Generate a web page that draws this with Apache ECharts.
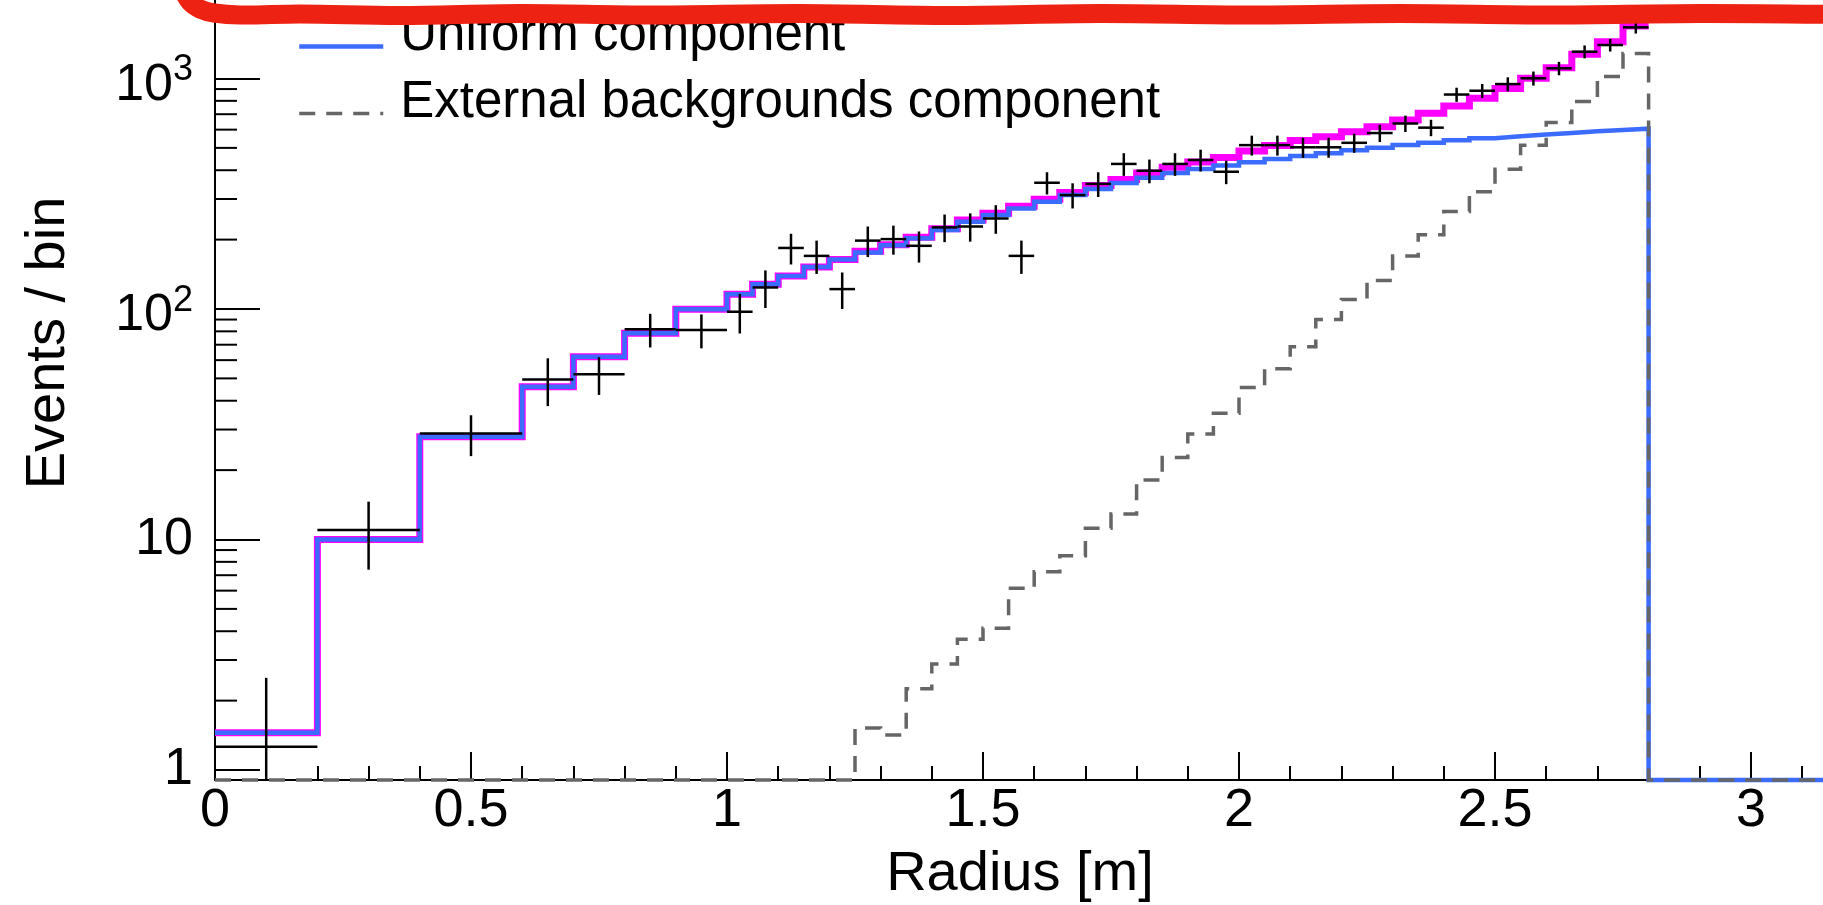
<!DOCTYPE html>
<html>
<head>
<meta charset="utf-8">
<script src="https://cdn.jsdelivr.net/npm/echarts@6/dist/echarts.min.js"></script>
<style>
  html, body { margin: 0; padding: 0; background: #ffffff; }
  #chart { width: 1823px; height: 905px; }
</style>
</head>
<body>
<div id="chart"></div>
<script>
// Histogram bin edges in radius [m]; the last bin is the empty tail past 2.8 m
const binEdges = [0, 0.2, 0.4, 0.6, 0.7, 0.8, 0.9, 1.0,
  1.05, 1.1, 1.15, 1.2, 1.25, 1.3, 1.35, 1.4, 1.45, 1.5,
  1.55, 1.6, 1.65, 1.7, 1.75, 1.8, 1.85, 1.9, 1.95, 2.0,
  2.05, 2.1, 2.15, 2.2, 2.25, 2.3, 2.35, 2.4, 2.45, 2.5,
  2.55, 2.6, 2.65, 2.7, 2.75, 2.8, 3.2];

// Total fit (events / bin), defined up to 2.8 m
const totalFit = [1.45, 10.0, 27.9, 46.0, 62.1, 78.5, 99.7,
  116, 128, 139, 152, 164, 178, 190, 205, 223, 243,
  260, 279, 299, 320, 343, 365, 389, 412, 434, 454,
  485, 512, 538, 559, 588, 618, 661, 706, 760, 820,
  906, 1002, 1114, 1273, 1445, 1689];

// Uniform component
const uniformComp = [1.45, 10.0, 27.9, 46.0, 62.1, 78.5, 99.7,
  116, 128, 139, 152, 164, 176, 189, 203, 220, 239,
  256, 273, 292, 312, 332, 352, 371, 389, 405, 419,
  433, 447, 461, 474, 488, 501, 515, 527, 540, 551,
  562, 572, 580, 590, 598, 606, 0];

// External backgrounds component
const externalComp = [0, 0, 0, 0, 0, 0, 0,
  0, 0, 0, 0, 0, 1.52, 1.42, 2.25, 2.88, 3.69,
  4.12, 6.14, 7.25, 8.5, 11.2, 12.9, 18.1, 22.7, 28.7, 35.3,
  45.7, 55, 68.6, 90, 110, 133, 170, 210, 265, 323,
  404, 514, 645, 794, 1019, 1285, 0];

// Observed events per bin and their uncertainties
const dataCounts = [1.26, 11.0, 28.8, 49.5, 52.1, 81.7, 81.1,
  97.3, 124, 184, 170, 122, 198, 201, 188, 226, 228,
  247, 170, 353, 312, 349, 426, 398, 426, 443, 394,
  514, 514, 503, 503, 526, 580, 638, 612, 852, 885,
  946, 1002, 1107, 1307, 1397, 1667];
const dataErrors = [1.25, 3.6, 5.8, 11.6, 9.7, 13.6, 13.6,
  19, 23, 28, 28, 22, 30, 29, 29, 31, 32,
  35, 28, 39, 39, 43, 48, 47, 48, 48, 46,
  51, 51, 50, 50, 50, 50, 52, 50, 60, 62,
  66, 70, 74, 84, 88, 100];

// Axis ranges and tick values
const X_MIN = 0, X_MAX = 3.5, X_STEP = 0.5;
const Y_MIN = 0.905, Y_MAX = 10000;
const yDecades = [1, 10, 100, 1000];
const yMinorTicks = [];
yDecades.forEach(function (d) {
  for (let k = 2; k <= 9; k++) yMinorTicks.push(k * d);
});

const FONT = "'Liberation Sans', Arial, Helvetica, sans-serif";

// Histogram outline: each bin contributes its two top corners;
// empty bins sit on the bottom of the log axis
function stepPoints(vals) {
  const pts = [];
  for (let i = 0; i < vals.length; i++) {
    const v = Math.max(vals[i], Y_MIN);
    pts.push([binEdges[i], v], [binEdges[i + 1], v]);
  }
  return pts;
}

const crossData = dataCounts.map(function (v, i) {
  return [binEdges[i], binEdges[i + 1], v, dataErrors[i]];
});

function renderCross(params, api) {
  const lo = api.value(0), hi = api.value(1), v = api.value(2), e = api.value(3);
  const pL = api.coord([lo, v]);
  const pR = api.coord([hi, v]);
  const xc = api.coord([(lo + hi) / 2, v])[0];
  const yTop = api.coord([lo, v + e])[1];
  const yBot = api.coord([lo, Math.max(v - e, Y_MIN)])[1];
  const st = { stroke: '#000000', lineWidth: 2.5 };
  return {
    type: 'group',
    children: [
      { type: 'line', shape: { x1: pL[0], y1: pL[1], x2: pR[0], y2: pR[1] }, style: st },
      { type: 'line', shape: { x1: xc, y1: yTop, x2: xc, y2: yBot }, style: st }
    ]
  };
}

function renderMinorTick(params, api) {
  const p = api.coord([api.value(0), api.value(1)]);
  return {
    type: 'line',
    shape: { x1: p[0], y1: p[1], x2: p[0] + 22, y2: p[1] },
    style: { stroke: '#000000', lineWidth: 2 }
  };
}

function yLabel(v) {
  const lg = Math.log10(v);
  const e = Math.round(lg);
  if (Math.abs(lg - e) > 1e-6) return '';
  if (e === 0) return '1';
  if (e === 1) return '10';
  return '{bp|10}{sp|' + e + '}';
}

const chart = echarts.init(document.getElementById('chart'), null, { renderer: 'canvas' });

const option = {
  backgroundColor: '#ffffff',
  animation: false,
  textStyle: { fontFamily: FONT, color: '#000000' },
  grid: { left: 215, top: -152, width: 1792, height: 932, outerBoundsMode: 'none', containLabel: false },
  legend: {
    orient: 'vertical',
    left: 297,
    top: 10,
    padding: 0,
    itemGap: -6,
    itemWidth: 84,
    itemHeight: 14,
    selectedMode: false,
    itemStyle: { color: 'rgba(0,0,0,0)', borderWidth: 0 },
    formatter: '{t|{name}}',
    textStyle: {
      fontFamily: FONT, fontSize: 51, color: '#000000', lineHeight: 44,
      rich: { t: { fontFamily: FONT, fontSize: 51, color: '#000000', lineHeight: 44, padding: [0, 0, 22, 12] } }
    },
    data: [
      { name: 'Uniform component', lineStyle: { width: 4.5 } },
      { name: 'External backgrounds component', lineStyle: { width: 3.5, type: [16, 11] } }
    ]
  },
  xAxis: {
    type: 'value',
    min: X_MIN,
    max: X_MAX,
    interval: X_STEP,
    name: 'Radius [m]',
    nameLocation: 'middle',
    nameGap: 67,
    nameTextStyle: { fontFamily: FONT, fontSize: 56, lineHeight: 56, color: '#000000', padding: [0, 182, 0, 0] },
    axisLine: { show: true, onZero: false, lineStyle: { color: '#000000', width: 2 } },
    axisTick: { show: true, inside: true, length: 28, lineStyle: { color: '#000000', width: 2 } },
    minorTick: { show: true, splitNumber: 5, length: 14, lineStyle: { color: '#000000', width: 2 } },
    axisLabel: { margin: 4, fontFamily: FONT, fontSize: 54, lineHeight: 54, color: '#000000' },
    splitLine: { show: false },
    minorSplitLine: { show: false }
  },
  yAxis: {
    type: 'log',
    logBase: 10,
    min: Y_MIN,
    max: Y_MAX,
    name: 'Events / bin',
    nameLocation: 'middle',
    nameRotate: 90,
    nameGap: 138,
    nameTextStyle: { fontFamily: FONT, fontSize: 56, lineHeight: 56, color: '#000000', padding: [0, 58, 0, 0] },
    axisLine: { show: true, onZero: false, lineStyle: { color: '#000000', width: 2 } },
    axisTick: { show: true, inside: true, length: 45, lineStyle: { color: '#000000', width: 2 } },
    axisLabel: {
      margin: 22,
      fontFamily: FONT,
      fontSize: 52,
      color: '#000000',
      formatter: yLabel,
      rich: {
        bp: { fontFamily: FONT, fontSize: 52, lineHeight: 52, color: '#000000', padding: [14, 0, 0, 0] },
        sp: { fontFamily: FONT, fontSize: 36, lineHeight: 42, color: '#000000', verticalAlign: 'top' }
      }
    },
    splitLine: { show: false },
    minorSplitLine: { show: false }
  },
  series: [
    {
      type: 'line', name: 'Total fit',
      data: stepPoints(totalFit),
      symbol: 'none', showSymbol: false, clip: false, silent: true,
      lineStyle: { color: '#ff00ff', width: 7, join: 'miter' },
      itemStyle: { color: '#ff00ff' },
      z: 2
    },
    {
      type: 'line', name: 'Uniform component',
      data: stepPoints(uniformComp),
      symbol: 'none', showSymbol: false, clip: false, silent: true,
      lineStyle: { color: '#3b6cff', width: 4.5, join: 'miter' },
      itemStyle: { color: '#3b6cff' },
      z: 3
    },
    {
      type: 'line', name: 'External backgrounds component',
      data: stepPoints(externalComp),
      symbol: 'none', showSymbol: false, clip: false, silent: true,
      lineStyle: { color: '#666666', width: 3.5, type: [16, 11], join: 'miter' },
      itemStyle: { color: '#666666' },
      z: 4
    },
    {
      type: 'custom', name: 'Data',
      data: crossData,
      encode: { x: [0, 1], y: [2] },
      renderItem: renderCross,
      silent: true,
      z: 5
    },
    {
      type: 'custom', name: 'y minor ticks',
      data: yMinorTicks.map(function (v) { return [X_MIN, v]; }),
      encode: { x: 0, y: 1 },
      renderItem: renderMinorTick,
      silent: true,
      z: 1
    }
  ],
  graphic: [
    {
      type: 'polyline',
      silent: true,
      z: 100,
      shape: {
        smooth: 0.35,
        points: [[183, -10], [190, 2], [200, 9], [214, 13], [240, 15], [300, 14],
          [400, 15.5], [520, 13.5], [650, 15], [800, 13.5], [950, 15.5], [1100, 13.5],
          [1250, 15], [1400, 13.5], [1550, 15], [1700, 13.5], [1835, 14.5]]
      },
      style: { stroke: '#ee2212', lineWidth: 19, fill: null, lineCap: 'round', lineJoin: 'round' }
    }
  ]
};

chart.setOption(option);
</script>
</body>
</html>
